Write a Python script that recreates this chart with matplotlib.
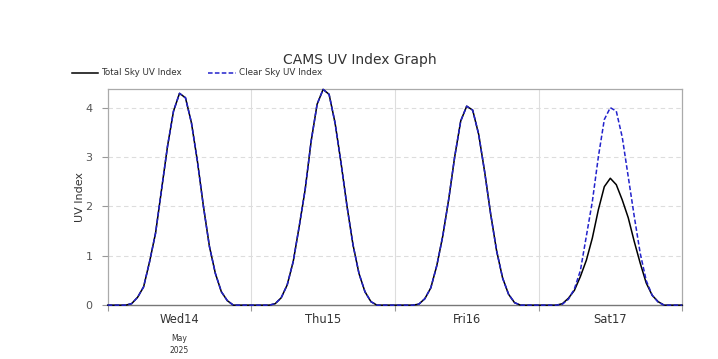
import numpy as np
import matplotlib.pyplot as plt

# hourly UV values, 4 days (Wed14 .. Sat17 May 2025), hours 0..23 each
wed = [0, 0, 0, 0, 0.03, 0.16, 0.37, 0.88, 1.46, 2.34, 3.22, 3.93,
       4.29, 4.20, 3.69, 2.91, 2.00, 1.19, 0.64, 0.27, 0.09, 0, 0, 0]
thu = [0, 0, 0, 0, 0.03, 0.15, 0.41, 0.88, 1.59, 2.34, 3.32, 4.07,
       4.37, 4.27, 3.69, 2.88, 2.00, 1.22, 0.64, 0.27, 0.07, 0, 0, 0]
fri = [0, 0, 0, 0, 0.02, 0.13, 0.35, 0.80, 1.40, 2.15, 3.01, 3.73,
       4.03, 3.95, 3.46, 2.70, 1.85, 1.10, 0.55, 0.22, 0.05, 0, 0, 0]
sat_clear = [0, 0, 0, 0, 0.02, 0.12, 0.33, 0.70, 1.40, 2.10, 3.00, 3.76,
             4.00, 3.93, 3.40, 2.60, 1.80, 1.05, 0.50, 0.20, 0.06, 0, 0, 0]
sat_total = [0, 0, 0, 0, 0.03, 0.14, 0.30, 0.58, 0.91, 1.36, 1.93, 2.40,
             2.57, 2.44, 2.13, 1.77, 1.29, 0.85, 0.45, 0.20, 0.07, 0, 0, 0]

day_labels = ['Wed14', 'Thu15', 'Fri16', 'Sat17']

total_sky = np.array(wed + thu + fri + sat_total + [0])
clear_sky = np.array(wed + thu + fri + sat_clear + [0])
hours = np.arange(len(total_sky))

fig = plt.figure(figsize=(7.18, 3.59), dpi=100)
ax = fig.add_axes([0.15, 0.150, 0.80, 0.601])

grey = '#999999'
ax.plot(hours, total_sky, color='black', lw=1.1, clip_on=False, zorder=3)
ax.plot(hours, clear_sky, color='#2222cc', lw=1.1, ls=(0, (3, 1.5)),
        clip_on=False, zorder=4)

ax.set_xlim(0, 96)
ax.set_ylim(0, clear_sky.max())

ax.set_xticks([0, 24, 48, 72, 96])
ax.set_xticklabels([])
ax.set_xticks([12, 36, 60, 84], minor=True)
ax.set_xticklabels(day_labels, minor=True, fontsize=8.3, color='#333333')
ax.tick_params(axis='x', which='minor', length=0, pad=6)
ax.tick_params(axis='x', which='major', length=4, color=grey)
ax.set_yticks([0, 1, 2, 3, 4])
ax.tick_params(axis='y', length=4, color=grey, labelsize=8,
               labelcolor='#555555', pad=7)

for x in [24, 48, 72]:
    ax.axvline(x, color='#dddddd', lw=0.8, zorder=1)
for y in [1, 2, 3, 4]:
    ax.axhline(y, color='#dddddd', lw=0.8, ls=(0, (4, 3)), zorder=1)

for s in ['left', 'right', 'top']:
    ax.spines[s].set_color('#aaaaaa')
    ax.spines[s].set_linewidth(0.9)
ax.spines['bottom'].set_color('#777777')
ax.spines['bottom'].set_linewidth(1.0)

ax.set_ylabel('UV Index', fontsize=8, color='#333333', labelpad=0)

ax.text(12, -0.72, 'May', fontsize=5.5, color='#333333', ha='center')
ax.text(12, -0.96, '2025', fontsize=5.5, color='#333333', ha='center')

fig.text(0.501, 0.822, 'CAMS UV Index Graph', fontsize=10, color='#333333',
         ha='center')

# legend above the axes
fig.add_artist(plt.Line2D([0.100, 0.136], [0.797, 0.797], color='black', lw=1.1))
fig.text(0.141, 0.797, 'Total Sky UV Index', fontsize=6.3, color='#333333',
         va='center')
fig.add_artist(plt.Line2D([0.290, 0.329], [0.797, 0.797], color='#2222cc',
                          lw=1.1, ls=(0, (3, 1.5))))
fig.text(0.333, 0.797, 'Clear Sky UV Index', fontsize=6.3, color='#333333',
         va='center')

fig.savefig('out.png', dpi=100)
